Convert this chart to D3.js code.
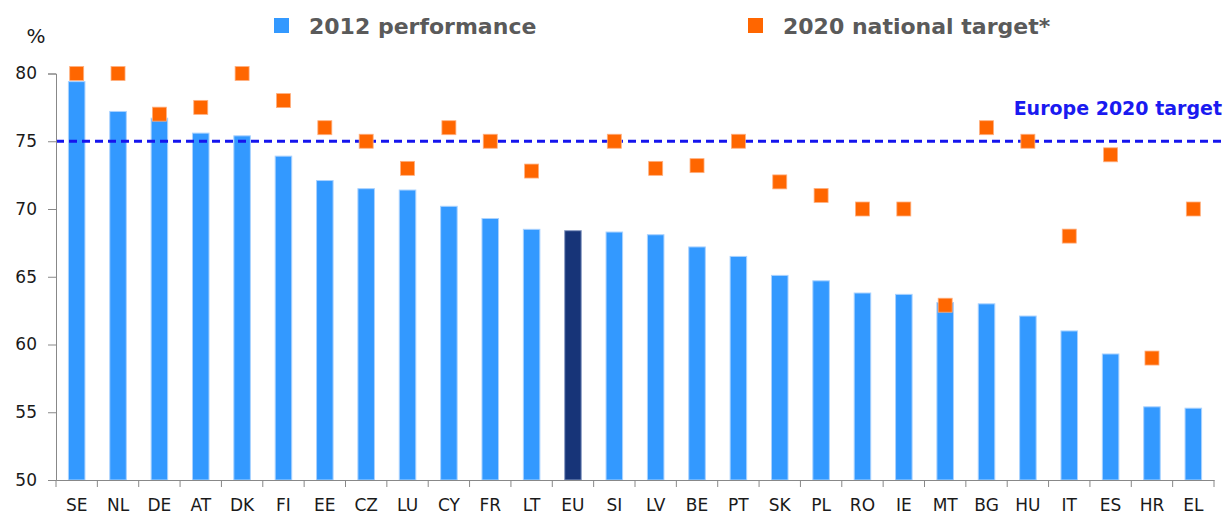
<!DOCTYPE html>
<html>
<head>
<meta charset="utf-8">
<script src="https://cdnjs.cloudflare.com/ajax/libs/d3/7.8.5/d3.min.js"></script>
<style>
  body { margin: 0; background: #fff; }
  svg { display: block; }
  .tick text { font-family: "DejaVu Sans", Verdana, sans-serif; fill: #1a1a1a; }
</style>
</head>
<body>
<div id="chart"></div>
<script>
// employment rate 20-64, 2012 vs national 2020 targets
var countries = ["SE","NL","DE","AT","DK","FI","EE","CZ","LU","CY","FR","LT","EU","SI","LV","BE","PT","SK","PL","RO","IE","MT","BG","HU","IT","ES","HR","EL"];
var perf2012 = [79.4,77.2,76.7,75.6,75.4,73.9,72.1,71.5,71.4,70.2,69.3,68.5,68.4,68.3,68.1,67.2,66.5,65.1,64.7,63.8,63.7,63.1,63.0,62.1,61.0,59.3,55.4,55.3];
var target2020 = [80,80,77,77.5,80,78,76,75,73,76,75,72.8,null,75,73,73.2,75,72,71,70,70,62.9,76,75,68,74,59,70];
var europeTarget = 75;
var yTicks = [50,55,60,65,70,75,80];

var width = 1225,
    height = 515;
var plotLeft = 56, plotRight = 1214, plotTop = 73.5, plotBottom = 480;

var svg = d3.select('#chart')
  .append('svg')
  .attr('width', width)
  .attr('height', height);

var x = d3.scaleBand().domain(countries).range([plotLeft, plotRight]).paddingInner(0.6).paddingOuter(0.3);
var y = d3.scaleLinear().domain([50, 80]).range([plotBottom, plotTop]);

// bars
svg.append('g').selectAll('rect')
  .data(countries)
  .enter()
  .append('rect')
  .attr('x', function(d) { return x(d); })
  .attr('width', x.bandwidth())
  .attr('y', function(d, i) { return y(perf2012[i]); })
  .attr('height', function(d, i) { return plotBottom - y(perf2012[i]); })
  .attr('fill', function(d) { return d == "EU" ? "#173478" : "#3399ff"; })
  .attr('stroke', function(d) { return d == "EU" ? "#8a9cc4" : "#a9d2ff"; })
  .attr('stroke-width', 1);

// europe 2020 line
svg.append('line')
  .attr('x1', plotLeft).attr('x2', 1223)
  .attr('y1', y(europeTarget)).attr('y2', y(europeTarget))
  .attr('stroke', '#1515ee')
  .attr('stroke-width', 3)
  .attr('stroke-dasharray', '8,5');

svg.append('text')
  .attr('x', 1222).attr('y', y(europeTarget) - 26)
  .attr('text-anchor', 'end')
  .attr('font-family', '"DejaVu Sans", Verdana, sans-serif')
  .attr('font-weight', 'bold')
  .attr('font-size', 19)
  .attr('fill', '#1a1af0')
  .text('Europe 2020 target');

// target squares
var sq = 14;
var targetData = countries.map(function(c, i) { return {c: c, v: target2020[i]}; })
  .filter(function(d) { return d.v != null; });
svg.append('g').selectAll('rect')
  .data(targetData)
  .enter()
  .append('rect')
  .attr('x', function(d) { return x(d.c) + x.bandwidth() / 2 - sq / 2; })
  .attr('y', function(d) { return y(d.v) - sq / 2; })
  .attr('width', sq).attr('height', sq)
  .attr('fill', '#ff6600')
  .attr('stroke', '#ffb080')
  .attr('stroke-width', 0.8);

// axes
var yAxis = svg.append('g')
  .attr('transform', 'translate(' + plotLeft + ',0)')
  .call(d3.axisLeft(y).tickValues(yTicks).tickSize(8).tickPadding(11));
yAxis.selectAll('text').attr('font-size', 17);

var xAxis = svg.append('g')
  .attr('transform', 'translate(0,' + plotBottom + ')')
  .call(d3.axisBottom(x).tickSize(0).tickPadding(19));
xAxis.selectAll('text').attr('font-size', 17);

// category boundary ticks
var edges = countries.map(function(c) { return x(c) - x.step() * x.paddingInner() / 2; });
edges.push(plotRight);
xAxis.selectAll('.edge')
  .data(edges)
  .enter()
  .append('line')
  .attr('class', 'edge')
  .attr('x1', function(d) { return d; }).attr('x2', function(d) { return d; })
  .attr('y1', 0).attr('y2', 7)
  .attr('stroke', '#888');

svg.selectAll('.domain').attr('stroke', '#888');
svg.selectAll('.tick line').attr('stroke', '#888');

svg.append('text')
  .attr('x', 36).attr('y', 43)
  .attr('text-anchor', 'middle')
  .attr('font-family', '"DejaVu Sans", Verdana, sans-serif')
  .attr('font-size', 20)
  .attr('fill', '#1a1a1a')
  .text('%');

// legend
var legend = [
  {label: "2012 performance", color: "#3399ff", x: 274},
  {label: "2020 national target*", color: "#ff6600", x: 748}
];
var lg = svg.append('g').selectAll('g')
  .data(legend)
  .enter()
  .append('g')
  .attr('transform', function(d) { return 'translate(' + d.x + ',18)'; });
lg.append('rect')
  .attr('width', 15).attr('height', 15)
  .attr('fill', function(d) { return d.color; });
lg.append('text')
  .attr('x', 35).attr('y', 16)
  .attr('font-family', '"DejaVu Sans", Verdana, sans-serif')
  .attr('font-weight', 'bold')
  .attr('font-size', 22)
  .attr('fill', '#5a5a5a')
  .text(function(d) { return d.label; });
</script>
</body>
</html>
